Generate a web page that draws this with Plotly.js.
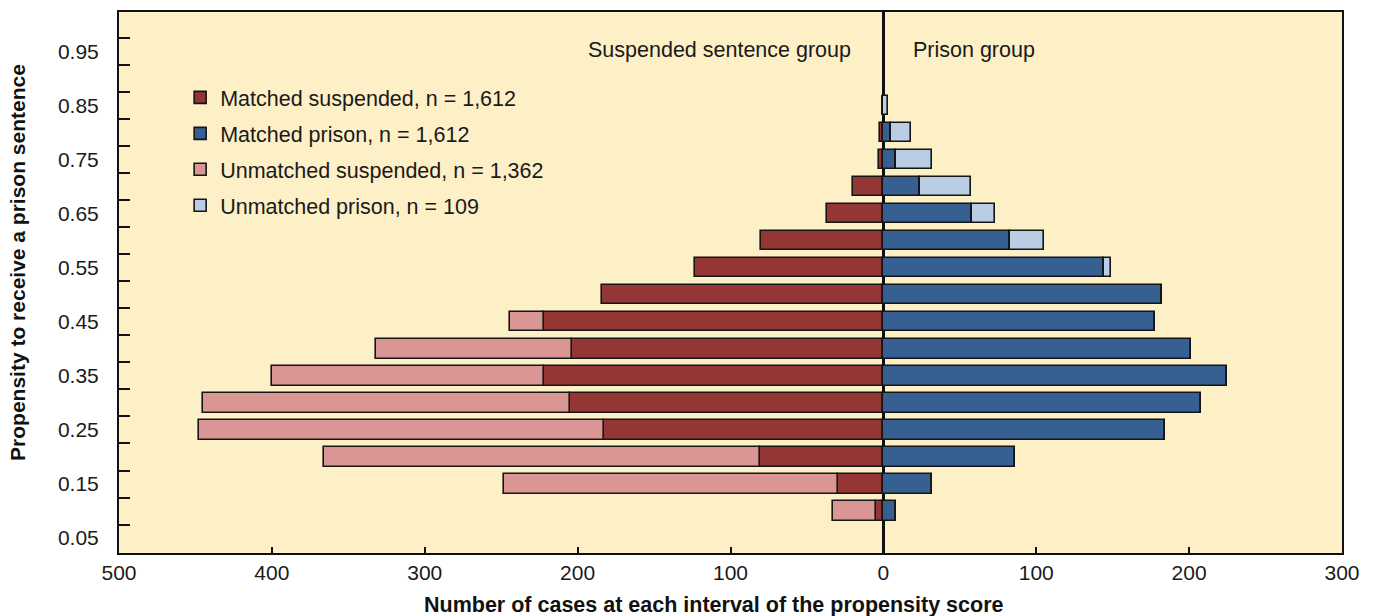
<!DOCTYPE html>
<html>
<head>
<meta charset="utf-8">
<script src="https://cdn.plot.ly/plotly-3.0.1.min.js"></script>
<style>html,body{margin:0;padding:0;background:#fff;}#chart{width:1373px;height:616px;}</style>
</head>
<body>
<div id="chart"></div>
<script>
// Propensity interval (bar centres)
const propensity = [0.10, 0.15, 0.20, 0.25, 0.30, 0.35, 0.40, 0.45, 0.50, 0.55, 0.60, 0.65, 0.70, 0.75, 0.80, 0.85];
// Counts per interval
const matchedSuspended   = [5, 30, 81, 183, 205, 222, 204, 222, 184, 123, 80, 37, 20, 3, 2, 0];
const matchedPrison      = [8, 32, 86, 184, 208, 225, 201, 178, 182, 144, 83, 58, 24, 8, 5, 0];
const unmatchedSuspended = [28, 218, 285, 265, 240, 178, 128, 22, 0, 0, 0, 0, 0, 0, 0, 0];
const unmatchedPrison    = [0, 0, 0, 0, 0, 0, 0, 0, 0, 5, 22, 15, 33, 24, 13, 3];
const seriesNames = ["Matched suspended, n = 1,612", "Matched prison, n = 1,612", "Unmatched suspended, n = 1,362", "Unmatched prison, n = 109"];
const yTickLabels = ["0.05","0.15","0.25","0.35","0.45","0.55","0.65","0.75","0.85","0.95"];
const yTickVals = [0.05,0.15,0.25,0.35,0.45,0.55,0.65,0.75,0.85,0.95];
const yMinorVals = [0.075,0.125,0.175,0.225,0.275,0.325,0.375,0.425,0.475,0.525,0.575,0.625,0.675,0.725,0.775,0.825,0.875,0.925,0.975];
const xTickVals = [-500,-400,-300,-200,-100,0,100,200,300];
const xTickLabels = ["500","400","300","200","100","0","100","200","300"];
const xTitle = "Number of cases at each interval of the propensity score";
const yTitle = "Propensity to receive a prison sentence";

const colors = ["#943634", "#366092", "#D99694", "#B9CDE5"];
const neg = a => a.map(v => -v);
const lineStyle = {color: "#151515", width: 1.6};
const barW = 0.036;

function mk(name, xs, col, grp) {
  return {type: "bar", orientation: "h", name: name, y: propensity, x: xs, width: barW,
          legendgroup: grp,
          marker: {color: col, line: lineStyle}, hoverinfo: "x+y+name"};
}
const data = [
  mk(seriesNames[0], neg(matchedSuspended), colors[0], "g1"),
  mk(seriesNames[1], matchedPrison, colors[1], "g2"),
  mk(seriesNames[2], neg(unmatchedSuspended), colors[2], "g3"),
  mk(seriesNames[3], unmatchedPrison, colors[3], "g4")
];

const fontFam = "Liberation Sans, Arial, sans-serif";
const titleFont = {family: fontFam, size: 21.5, color: "#111", weight: "bold"};
const layout = {
  width: 1373, height: 616,
  margin: {l: 119, r: 31, t: 12, b: 63, pad: 0},
  paper_bgcolor: "#ffffff",
  plot_bgcolor: "#FDEFC6",
  barmode: "relative",
  bargap: 0,
  font: {family: fontFam, size: 21, color: "#1a1a1a"},
  showlegend: true,
  legend: {x: 0.05, y: 0.88, xanchor: "left", yanchor: "top", bgcolor: "rgba(0,0,0,0)",
           font: {family: fontFam, size: 21.5, color: "#1a1a1a"}, traceorder: "grouped", tracegroupgap: 5},
  xaxis: {range: [-500, 300], tickmode: "array", tickvals: xTickVals, ticktext: xTickLabels,
          ticks: "inside", ticklen: 6, tickwidth: 1.5, tickcolor: "#111",
          showgrid: false, zeroline: true, zerolinecolor: "#111", zerolinewidth: 3,
          showline: true, mirror: true, linecolor: "#111", linewidth: 2, layer: "above traces",
          tickfont: {size: 21, color: "#1a1a1a"}},
  yaxis: {range: [0.0225, 1.0225], tickmode: "array", tickvals: yTickVals, ticktext: yTickLabels,
          ticks: "", ticklabelstandoff: 14, showgrid: false, zeroline: false,
          showline: true, mirror: true, linecolor: "#111", linewidth: 2,
          tickfont: {size: 21, color: "#1a1a1a"},
          minor: {tickmode: "array", tickvals: yMinorVals, ticks: "inside", ticklen: 11, tickwidth: 2, tickcolor: "#111", showgrid: false}},
  annotations: [
    {text: "Suspended sentence group", xref: "x", yref: "paper", x: 0, y: 0.93, xanchor: "right", yanchor: "middle", xshift: -30, showarrow: false, font: {size: 21.5, color: "#1a1a1a"}},
    {text: "Prison group", xref: "x", yref: "paper", x: 0, y: 0.93, xanchor: "left", yanchor: "middle", xshift: 28, showarrow: false, font: {size: 21.5, color: "#1a1a1a"}},
    {text: xTitle, xref: "paper", yref: "paper", x: 0.4865, y: -0.096, xanchor: "center", yanchor: "middle", showarrow: false, font: titleFont},
    {text: yTitle, xref: "paper", yref: "paper", x: -0.0826, y: 0.538, xanchor: "center", yanchor: "middle", textangle: -90, showarrow: false, font: {family: fontFam, size: 21, color: "#111", weight: "bold"}}
  ]
};
Plotly.newPlot("chart", data, layout, {displayModeBar: false, responsive: false});
</script>
</body>
</html>
